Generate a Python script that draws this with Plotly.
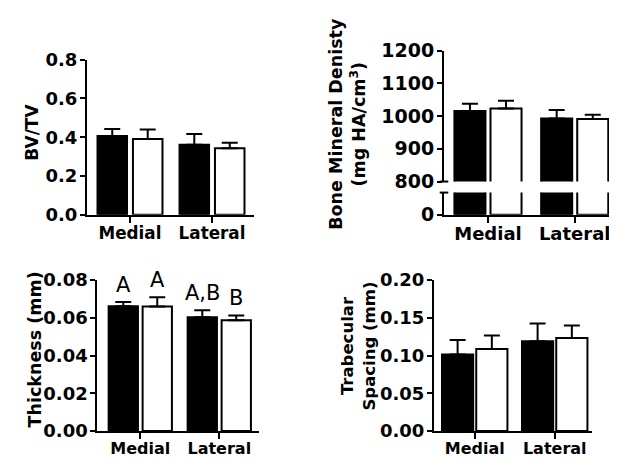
import plotly.graph_objects as go

W, H = 617, 460

# ---------------- data ----------------
categories = ["Medial", "Lateral"]

bvtv_black = [0.407, 0.362]
bvtv_black_err = [0.035, 0.055]
bvtv_white = [0.391, 0.344]
bvtv_white_err = [0.049, 0.028]
bvtv_ticks = [0.0, 0.2, 0.4, 0.6, 0.8]

bmd_black = [1016, 993]
bmd_black_err = [22, 26]
bmd_white = [1023, 991]
bmd_white_err = [24, 13]
bmd_ticks_upper = [800, 900, 1000, 1100, 1200]
bmd_ticks_lower = [0]

th_black = [0.0662, 0.0603]
th_black_err = [0.0022, 0.0037]
th_white = [0.0660, 0.0588]
th_white_err = [0.0049, 0.0025]
th_letters_black = ["A", "A,B"]
th_letters_white = ["A", "B"]
th_ticks = [0.00, 0.02, 0.04, 0.06, 0.08]

ts_black = [0.1016, 0.1190]
ts_black_err = [0.0190, 0.0234]
ts_white = [0.1087, 0.1234]
ts_white_err = [0.0180, 0.0166]
ts_ticks = [0.00, 0.05, 0.10, 0.15, 0.20]

# ---------------- helpers ----------------
FONT = "DejaVu Sans"


def px_x(x):
    return x / W


def px_y(y):
    return 1 - y / H


def bars(fig, xa, ya, black, black_err, white, white_err, d, w, show_err=True):
    for vals, errs, fill, sign in ((black, black_err, "black", -1), (white, white_err, "white", 1)):
        err = dict(type="data", array=errs, arrayminus=[0] * len(errs), symmetric=False,
                   color="black", thickness=2, width=8, visible=show_err)
        fig.add_trace(go.Bar(
            x=categories, y=vals, xaxis=xa, yaxis=ya,
            width=w, offset=sign * d - w / 2,
            marker=dict(color=fill, line=dict(color="black", width=2)),
            error_y=err, showlegend=False, hoverinfo="skip",
        ))


def yax(dom, rng, ticks, fmt, anchor, size=15):
    return dict(domain=dom, range=rng, tickvals=ticks,
                ticktext=[format(t, fmt) for t in ticks], anchor=anchor,
                showline=True, linecolor="black", linewidth=2, ticks="outside", ticklen=5,
                tickwidth=2, tickcolor="black", showgrid=False, zeroline=False,
                ticklabelstandoff=-1,
                tickfont=dict(family=FONT, size=size, color="black", weight="bold"))


def xax(dom, rng, anchor, size=16):
    return dict(domain=dom, range=rng, anchor=anchor, type="category",
                tickvals=categories, ticktext=categories,
                showline=True, linecolor="black", linewidth=2, ticks="outside", ticklen=6,
                tickwidth=2, tickcolor="black", showgrid=False, zeroline=False,
                ticklabelstandoff=-4,
                tickfont=dict(family=FONT, size=size, color="black", weight="bold"))


fig = go.Figure()

bars(fig, "x", "y", bvtv_black, bvtv_black_err, bvtv_white, bvtv_white_err, 0.216, 0.36)
bars(fig, "x2", "y2", bmd_black, bmd_black_err, bmd_white, bmd_white_err, 0.208, 0.358)
bars(fig, "x2", "y3", bmd_black, bmd_black_err, bmd_white, bmd_white_err, 0.208, 0.358, show_err=False)
bars(fig, "x3", "y4", th_black, th_black_err, th_white, th_white_err, 0.215, 0.371)
bars(fig, "x4", "y5", ts_black, ts_black_err, ts_white, ts_white_err, 0.214, 0.39)

fig.update_layout(
    width=W, height=H, margin=dict(l=0, r=0, t=0, b=0),
    paper_bgcolor="white", plot_bgcolor="white", barmode="overlay",
    showlegend=False,
    xaxis=xax([px_x(79), px_x(245.6)], [-0.524, 1.507], "y", 16.8),
    yaxis=yax([px_y(205.7), px_y(42.7)], [0, 0.8], bvtv_ticks, ".1f", "x", 18),
    xaxis2=xax([px_x(436), px_x(606.7)], [-0.507, 1.461], "y3", 18),
    yaxis2=yax([px_y(170.7), px_y(33.3)], [800, 1200], bmd_ticks_upper, "d", "x2", 19),
    yaxis3=yax([px_y(205.5), px_y(182.3)], [0, 100], bmd_ticks_lower, "d", "x2", 19),
    xaxis3=xax([px_x(89.3), px_x(250.7)], [-0.544, 1.499], "y4", 16),
    yaxis4=yax([px_y(432.7), px_y(274.3)], [0, 0.08], th_ticks, ".2f", "x3", 18),
    xaxis4=xax([px_x(426), px_x(584)], [-0.509, 1.466], "y5", 16),
    yaxis5=yax([px_y(432.7), px_y(274.3)], [0, 0.2], ts_ticks, ".2f", "x4", 18),
)

for yref, yv in (("y3 domain", 1), ("y2 domain", 0)):
    fig.add_shape(type="line", xref="x2 domain", yref=yref, x0=-0.025, x1=0.025, y0=yv, y1=yv,
                  line=dict(color="black", width=2))

titles = [
    ("BV/TV", 24, 119.5, 17),
    ("Bone Mineral Denisty<br>(mg HA/cm<sup>3</sup>)", 340, 110, 17.5),
    ("Thickness (mm)", 27, 347, 17.5),
    ("Trabecular<br>Spacing (mm)", 350, 344, 16.5),
]
for txt, xp, yp, fs in titles:
    fig.add_annotation(text=txt, x=px_x(xp), y=px_y(yp), xref="paper", yref="paper",
                       textangle=-90, xanchor="center", yanchor="middle", showarrow=False,
                       font=dict(family=FONT, size=fs, color="black", weight="bold"))

for letters, vals, errs, sign in ((th_letters_black, th_black, th_black_err, -1),
                                  (th_letters_white, th_white, th_white_err, 1)):
    for i, (lab, v, e) in enumerate(zip(letters, vals, errs)):
        fig.add_annotation(text=lab, x=i + sign * 0.215, y=v + e, xref="x3", yref="y4",
                           xanchor="center", yanchor="bottom", yshift=3, showarrow=False,
                           font=dict(family=FONT, size=21, color="black"))

fig.write_html("out.html")
